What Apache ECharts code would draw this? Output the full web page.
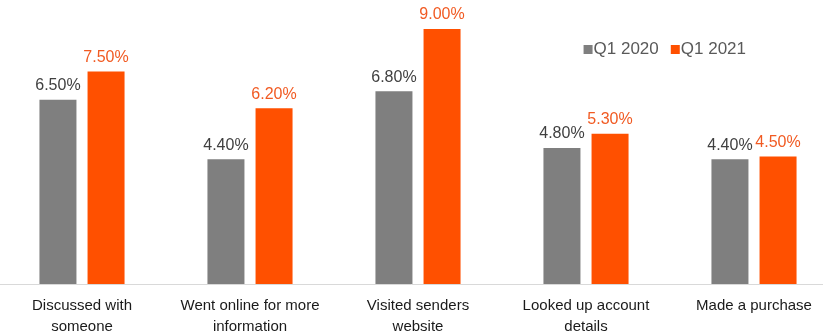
<!DOCTYPE html>
<html><head><meta charset="utf-8">
<script src="https://cdn.jsdelivr.net/npm/echarts@6/dist/echarts.min.js"></script>
<style>html,body{margin:0;padding:0;background:#fff}#c{width:823px;height:335px}</style>
</head><body><div id="c"></div>
<script>
const categories = ["Discussed with\nsomeone", "Went online for more\ninformation", "Visited senders\nwebsite", "Looked up account\ndetails", "Made a purchase"];
const q2020 = [6.5, 4.4, 6.8, 4.8, 4.4];
const q2021 = [7.5, 6.2, 9.0, 5.3, 4.5];
const seriesNames = ["Q1 2020", "Q1 2021"];

const chart = echarts.init(document.getElementById('c'), null, {renderer: 'canvas'});
const font = 'Liberation Sans, Arial, sans-serif';
chart.setOption({
  animation: false,
  textStyle: {fontFamily: font},
  legend: {
    data: seriesNames, right: 72, top: 36, itemWidth: 9, itemHeight: 9, itemGap: 12,
    icon: 'rect', textStyle: {fontSize: 17, color: '#595959', fontFamily: font, padding: [0,0,0,-4]}
  },
  grid: {left: -2, width: 840, top: 29, bottom: 51, containLabel: false, outerBoundsMode: 'none'},
  xAxis: {
    type: 'category', data: categories,
    axisLine: {lineStyle: {color: '#d9d9d9', width: 1}},
    axisTick: {show: false},
    axisLabel: {fontSize: 15, color: '#1a1a1a', lineHeight: 21, margin: 11, interval: 0, fontFamily: font}
  },
  yAxis: {type: 'value', min: 0, max: 9, show: false, splitLine: {show: false}},
  series: [
    {name: seriesNames[0], type: 'bar', data: q2020, barWidth: 37, barGap: '30%',
     itemStyle: {color: '#7f7f7f'},
     label: {show: true, position: 'top', distance: 6, fontSize: 16, color: '#404040', fontFamily: font,
       formatter: p => p.value.toFixed(2) + '%'}},
    {name: seriesNames[1], type: 'bar', data: q2021, barWidth: 37,
     itemStyle: {color: '#ff5000'},
     label: {show: true, position: 'top', distance: 6, fontSize: 16, color: '#f15a22', fontFamily: font,
       formatter: p => p.value.toFixed(2) + '%'}}
  ]
});
</script></body></html>
